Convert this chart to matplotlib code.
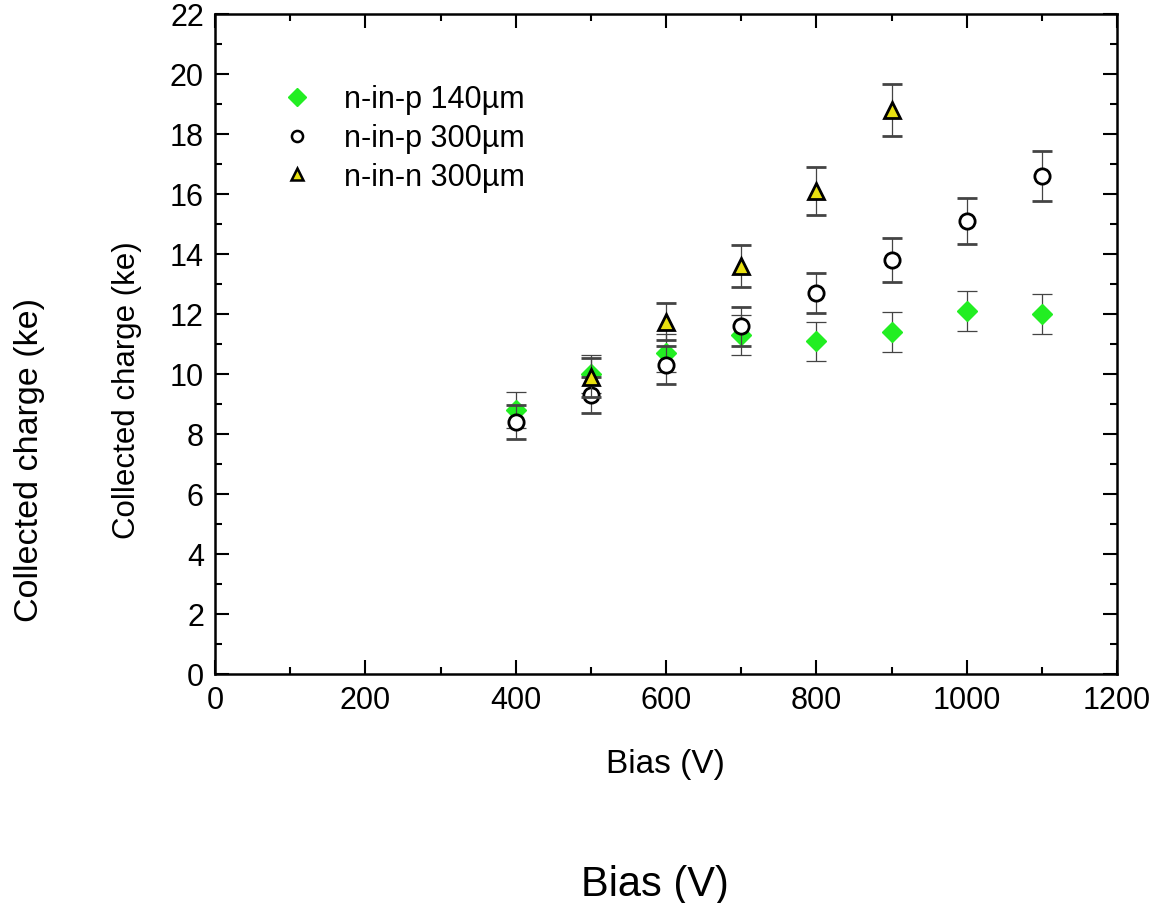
import matplotlib
matplotlib.use("Agg")
import matplotlib.pyplot as plt
from matplotlib.lines import Line2D
from matplotlib.ticker import MultipleLocator

plt.rcParams['font.family'] = ['Liberation Sans', 'DejaVu Sans']

bias_140p = [400, 500, 600, 700, 800, 900, 1000, 1100]
charge_140p = [8.8, 10.0, 10.7, 11.3, 11.1, 11.4, 12.1, 12.0]
err_140p = [0.6, 0.62, 0.64, 0.65, 0.65, 0.67, 0.66, 0.66]

bias_300p = [400, 500, 600, 700, 800, 900, 1000, 1100]
charge_300p = [8.4, 9.3, 10.3, 11.6, 12.7, 13.8, 15.1, 16.6]
err_300p = [0.55, 0.6, 0.62, 0.65, 0.68, 0.72, 0.77, 0.82]

bias_300n = [500, 600, 700, 800, 900]
charge_300n = [9.9, 11.75, 13.6, 16.1, 18.8]
err_300n = [0.65, 0.63, 0.7, 0.8, 0.87]

labels = ['n-in-p 140µm', 'n-in-p 300µm', 'n-in-n 300µm']

fig = plt.figure(figsize=(11.52, 9.04), dpi=100)
ax = fig.add_axes([215/1152, 1-675/904, (1117-215)/1152, (675-15)/904])

eb_kw = dict(ecolor='#444444', elinewidth=0.9, capsize=7, capthick=0.9, linestyle='none')
ax.errorbar(bias_140p, charge_140p, yerr=err_140p, marker='D', ms=10.5,
            mfc='#22ee22', mec='#22ee22', zorder=3, **eb_kw)
ax.errorbar(bias_300p, charge_300p, yerr=err_300p, marker='o', ms=11,
            mfc='white', mec='black', mew=2, zorder=4, **eb_kw)
ax.errorbar(bias_300n, charge_300n, yerr=err_300n, marker='^', ms=12,
            mfc='#e8e010', mec='black', mew=2, zorder=5, **eb_kw)

ax.set_xlim(0, 1200)
ax.set_ylim(0, 22)
ax.xaxis.set_major_locator(MultipleLocator(200))
ax.xaxis.set_minor_locator(MultipleLocator(100))
ax.yaxis.set_major_locator(MultipleLocator(2))
ax.yaxis.set_minor_locator(MultipleLocator(1))
ax.tick_params(which='both', direction='in', top=True, right=True, width=1.5,
               labelsize=22, pad=8)
ax.tick_params(which='major', length=10)
ax.tick_params(which='minor', length=5)
for s in ax.spines.values():
    s.set_linewidth(1.8)

fig.text(665/1152, 1-765/904, 'Bias (V)', fontsize=24, ha='center', va='center')
fig.text(127/1152, 1-390/904, 'Collected charge (ke)', rotation=90,
         fontsize=22.5, ha='center', va='center')

handles = [
    Line2D([], [], marker='D', ls='none', ms=9, mfc='#22ee22', mec='#22ee22'),
    Line2D([], [], marker='o', ls='none', ms=8, mfc='white', mec='black', mew=1.8),
    Line2D([], [], marker='^', ls='none', ms=9, mfc='#e8e010', mec='black', mew=1.8),
]
ax.legend(handles, labels, loc='upper left', bbox_to_anchor=(0.043, 0.935),
          frameon=False, fontsize=22, handletextpad=1.05, labelspacing=0.29,
          handlelength=1.0)

fig.text(30/1152, 1-460/904, 'Collected charge (ke)', rotation=90,
         fontsize=24.5, ha='center', va='center')
fig.text(655/1152, 1-885/904, 'Bias (V)', fontsize=30, ha='center', va='center')

fig.savefig('out.png', dpi=100)
